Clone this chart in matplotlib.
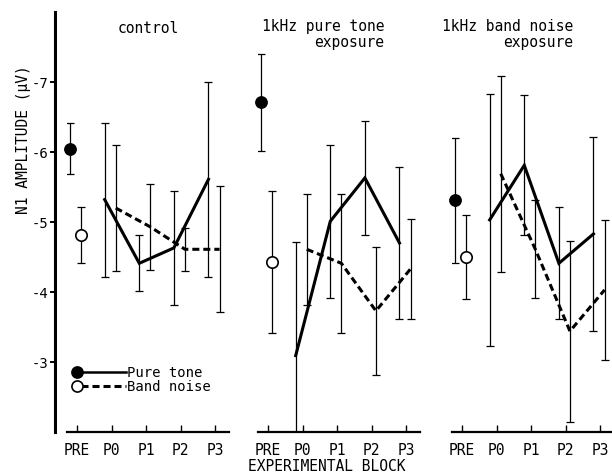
import numpy as np
import matplotlib
matplotlib.use("Agg")
import matplotlib.pyplot as plt

plt.rcParams["font.family"] = ["DejaVu Sans Mono", "DejaVu Sans"]
plt.rcParams["font.size"] = 10.5

blocks = ["PRE", "P0", "P1", "P2", "P3"]
panel_titles = ["control", "1kHz pure tone\nexposure", "1kHz band noise\nexposure"]

# mean N1 amplitude (uV) and error half-width, per panel: PRE, P0..P3
control_pure = [-6.05, -5.32, -4.41, -4.63, -5.61]
control_pure_sd = [0.36, 1.10, 0.40, 0.81, 1.39]
control_band = [-4.81, -5.20, -4.93, -4.61, -4.61]
control_band_sd = [0.40, 0.90, 0.62, 0.31, 0.90]

tone_pure = [-6.71, -3.09, -5.01, -5.63, -4.70]
tone_pure_sd = [0.69, 1.63, 1.09, 0.81, 1.09]
tone_band = [-4.43, -4.61, -4.41, -3.73, -4.33]
tone_band_sd = [1.01, 0.79, 0.99, 0.91, 0.71]

noise_pure = [-5.31, -5.03, -5.81, -4.41, -4.83]
noise_pure_sd = [0.89, 1.80, 1.00, 0.80, 1.39]
noise_band = [-4.50, -5.69, -4.61, -3.44, -4.03]
noise_band_sd = [0.60, 1.40, 0.70, 1.29, 1.00]

panels = [
    (control_pure, control_pure_sd, control_band, control_band_sd),
    (tone_pure, tone_pure_sd, tone_band, tone_band_sd),
    (noise_pure, noise_pure_sd, noise_band, noise_band_sd),
]

W, H = 612, 477
fig = plt.figure(figsize=(W / 100, H / 100), dpi=100)

px_unit = 34.6
xlim = (-0.3, 4.4)
ax_w = (xlim[1] - xlim[0]) * px_unit
pre_px = [77, 268, 462]
ax_bottom, ax_top = 433, 13

dash = (2.3, 1.3)
axes = []
for k, (pm, ps, bm, bs) in enumerate(panels):
    left = pre_px[k] + xlim[0] * px_unit
    ax = fig.add_axes([left / W, 1 - ax_bottom / H, ax_w / W, (ax_bottom - ax_top) / H])
    axes.append(ax)
    x = np.arange(len(blocks))
    xp = x - 0.2
    xb = x + 0.12

    ax.errorbar(xp, pm, yerr=ps, fmt="none", ecolor="black", elinewidth=0.9,
                capsize=3, capthick=0.9)
    ax.errorbar(xb, bm, yerr=bs, fmt="none", ecolor="black", elinewidth=0.9,
                capsize=3, capthick=0.9)
    ax.plot(xp[1:], pm[1:], color="black", lw=2.2, solid_joinstyle="miter")
    ax.plot(xb[1:], bm[1:], color="black", lw=2.2, dashes=dash)
    ax.plot(xp[0], pm[0], "o", ms=8.2, mfc="black", mec="black", zorder=5, clip_on=False)
    ax.plot(xb[0], bm[0], "o", ms=8.2, mfc="white", mec="black", mew=1.2, zorder=5, clip_on=False)

    ax.set_xlim(*xlim)
    ax.set_ylim(-2.0, -8.0)
    ax.set_xticks(x)
    ax.set_xticklabels(blocks)
    ax.tick_params(axis="x", direction="in", length=5, width=1, pad=7)
    for s in ["top", "right"]:
        ax.spines[s].set_visible(False)
    ax.spines["bottom"].set_linewidth(1.6)
    ax.patch.set_visible(False)

    if k == 0:
        ax.spines["left"].set_position(("outward", 8.6))
        ax.spines["left"].set_linewidth(2.2)
        ax.set_yticks([-7, -6, -5, -4, -3])
        ax.set_yticklabels(["-7", "-6", "-5", "-4", "-3"])
        ax.tick_params(axis="y", direction="out", length=3.5, width=1.4, pad=0.8,
                       labelsize=10)
        ax.text(0.5, 0.964, panel_titles[k], transform=ax.transAxes,
                ha="center", va="center")
    else:
        ax.spines["left"].set_visible(False)
        ax.tick_params(axis="y", left=False, labelleft=False)
        right = [0, 0.78, 0.745][k]
        ax.text(right, 0.985, panel_titles[k], transform=ax.transAxes,
                ha="right", va="top", multialignment="right", linespacing=1.05)

# legend drawn by hand in panel 1
ax = axes[0]
leg_y = [0.143, 0.109]
leg_lab = ["Pure tone", "Band noise"]
leg_fill = ["black", "white"]
for yy, lab, fc, ls in zip(leg_y, leg_lab, leg_fill, [None, dash]):
    if ls is None:
        ax.plot([0.09, 0.365], [yy, yy], color="black", lw=1.8, transform=ax.transAxes, clip_on=False)
    else:
        ax.plot([0.09, 0.365], [yy, yy], color="black", lw=2.2, dashes=ls, transform=ax.transAxes, clip_on=False)
    ax.plot([0.062], [yy], "o", ms=8.0, mfc=fc, mec="black", mew=1.2,
            transform=ax.transAxes, clip_on=False, zorder=6)
    ax.text(0.37, yy, lab, transform=ax.transAxes, ha="left", va="center", fontsize=10)

fig.text(24 / W, 1 - 140 / H, "N1 AMPLITUDE (\u03bcV)", rotation=90, ha="center", va="center")
fig.text(327 / W, 1 - 467 / H, "EXPERIMENTAL BLOCK", ha="center", va="center")

fig.savefig("out.png", dpi=100)
